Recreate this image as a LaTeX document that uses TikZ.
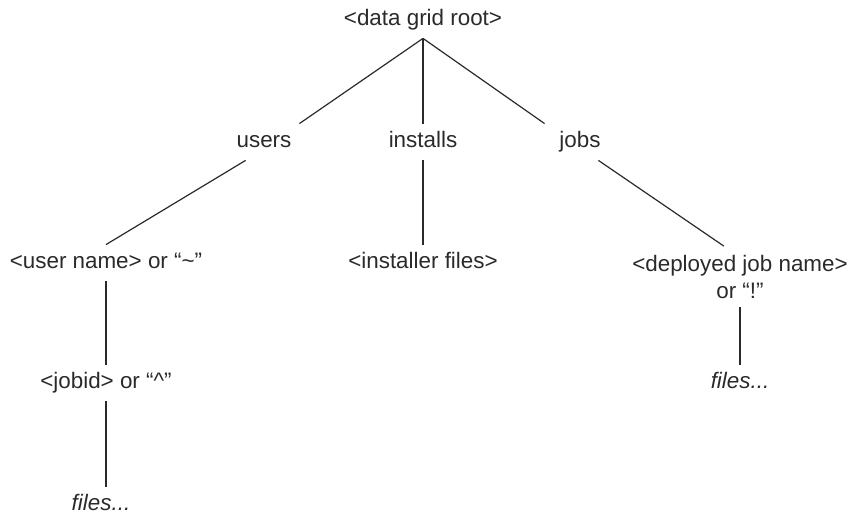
\documentclass[tikz,border=0pt]{standalone}
\usepackage{fontspec}
\setmainfont{Liberation Sans}
\usepackage{tikz}
\usetikzlibrary{calc, positioning}
\definecolor{treeGray}{HTML}{2A2A2A}

\tikzset{
  dirNode/.style = {text = treeGray, font = \fontsize{11.2}{13.5}\selectfont,
    text height = 8pt, text depth = 2.5pt, minimum height = 18pt, inner xsep = 2pt},
  topNode/.style = {dirNode, minimum width = 35pt},
  twoLine/.style = {text = treeGray, font = \fontsize{11.2}{13.5}\selectfont,
    align = center, minimum height = 30pt, inner xsep = 2pt},
  dirLine/.style = {draw = treeGray, line width = 0.6pt}
}

\begin{document}
\begin{tikzpicture}[x = 0.5pt, y = -0.5pt]
  \useasboundingbox (0, 0) rectangle (848, 513);

  % ------------------------
  % directory names
  % ------------------------

  \node[dirNode] (root) at (423, 20) {<data grid root>};

  \node[topNode] (users) at (264, 142) {users};
  \node[dirNode] (installs) at (423, 142) {installs};
  \node[topNode] (jobs) at (580, 142) {jobs};

  \node[dirNode] (userName) at (106, 263) {<user name> or “\textasciitilde”};
  \node[dirNode] (installerFiles) at (423, 263) {<installer files>};
  \node[twoLine] (jobName) at (740, 276.5) {<deployed job name>\\or “!”};

  \node[dirNode] (jobId) at (106, 383) {<jobid> or “\textasciicircum”};
  \node[dirNode, font = \fontsize{11.2}{13.5}\selectfont\itshape] (jobFiles) at (740, 383) {files...};

  \node[dirNode, font = \fontsize{11.2}{13.5}\selectfont\itshape] (userFiles) at (101, 505) {files...};

  % ------------------------
  % connecting lines
  % ------------------------

  \draw[dirLine] (root.south) to (users.north east);
  \draw[dirLine] (root.south) to (installs.north);
  \draw[dirLine] (root.south) to (jobs.north west);

  \draw[dirLine] (users.-135) to (userName.north);
  \draw[dirLine] (installs.south) to (installerFiles.north);
  \draw[dirLine] (jobs.-45) to (jobName.118);

  \draw[dirLine] (userName.south) to (jobId.north);
  \draw[dirLine] (jobName.south) to (jobFiles.north);
  \draw[dirLine] (jobId.south) to (jobId.south |- userFiles.north);
\end{tikzpicture}
\end{document}
